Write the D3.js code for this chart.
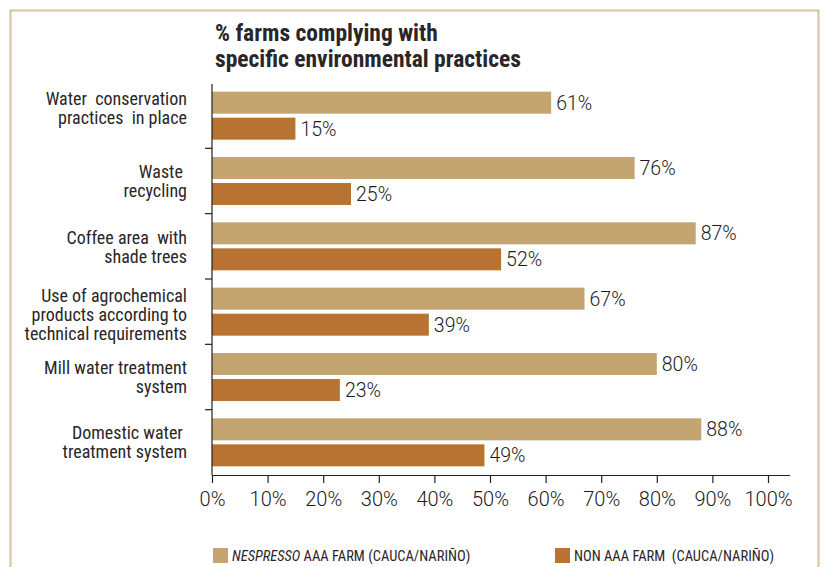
<!DOCTYPE html>
<html>
<head>
<meta charset="utf-8">
<script src="https://cdn.jsdelivr.net/npm/d3@7"></script>
<style>
  body { margin: 0; background: #fff; }
  svg { display: block; }
  text { font-family: "Liberation Sans Narrow", "Roboto Condensed", "Liberation Sans", sans-serif; fill: #2a2627; }
  .num { font-family: Roboto, "Liberation Sans", sans-serif; font-weight: 300; fill: #1e1b1c; }
</style>
</head>
<body>
<script>
// categories and series values (percent of farms)
var categories = [
  ["Water  conservation", "practices  in place"],
  ["Waste ", "recycling"],
  ["Coffee area  with", "shade trees"],
  ["Use of agrochemical", "products according to", "technical requirements"],
  ["Mill water treatment", "system"],
  ["Domestic water ", "treatment system"]
];
var aaaValues = [61, 76, 87, 67, 80, 88];
var nonAaaValues = [15, 25, 52, 39, 23, 49];
var xTicks = [0, 10, 20, 30, 40, 50, 60, 70, 80, 90, 100];
var seriesNames = ["AAA FARM (CAUCA/NARIÑO)", "NON AAA FARM  (CAUCA/NARIÑO)"];
var titleLines = ["% farms complying with", "specific environmental practices"];

// the labels are not all centred on their band in the original
var labelShift = [-8, 0, 1, 3, 0, 0];

var W = 825, H = 567;
var colAAA = "#c4a571", colNon = "#b87333", frame = "#d9c19e";

var svg = d3.select("body").append("svg")
    .attr("width", W)
    .attr("height", H);

// outer frame
svg.append("path")
    .attr("d", "M10.5," + H + "V10.5H818.5V" + H)
    .attr("fill", "none")
    .attr("stroke", frame)
    .attr("stroke-width", 2);

// title
svg.append("text")
    .attr("x", 215)
    .attr("y", 41)
    .attr("font-size", 23.5)
    .attr("font-weight", "bold")
    .attr("fill", "#111")
    .selectAll("tspan")
    .data(titleLines)
    .enter().append("tspan")
    .attr("x", 215)
    .attr("dy", function(d, i) { return i ? 26 : 0; })
    .text(function(d) { return d; });

// scales
var x = d3.scaleLinear().domain([0, 100]).range([212, 768]);
var y = d3.scaleBand().domain(d3.range(categories.length)).range([83, 475]);

var barH = 22, gap = 4, lineH = 19;

// bars
var groups = svg.append("g").selectAll("g")
    .data(categories)
    .enter().append("g");

function barTop(i, k) {
  var mid = y(i) + y.bandwidth() / 2;
  return k == 0 ? mid - gap / 2 - barH : mid + gap / 2;
}

groups.append("rect")
    .attr("x", x(0))
    .attr("y", function(d, i) { return barTop(i, 0); })
    .attr("width", function(d, i) { return x(aaaValues[i]) - x(0); })
    .attr("height", barH)
    .attr("fill", colAAA);

groups.append("rect")
    .attr("x", x(0))
    .attr("y", function(d, i) { return barTop(i, 1); })
    .attr("width", function(d, i) { return x(nonAaaValues[i]) - x(0); })
    .attr("height", barH)
    .attr("fill", colNon);

// value labels
groups.append("text")
    .attr("class", "num")
    .attr("x", function(d, i) { return x(aaaValues[i]) + 5; })
    .attr("y", function(d, i) { return barTop(i, 0) + barH / 2 + 7; })
    .attr("font-size", 19.5)
    .text(function(d, i) { return aaaValues[i] + "%"; });

groups.append("text")
    .attr("class", "num")
    .attr("x", function(d, i) { return x(nonAaaValues[i]) + 5; })
    .attr("y", function(d, i) { return barTop(i, 1) + barH / 2 + 7; })
    .attr("font-size", 19.5)
    .text(function(d, i) { return nonAaaValues[i] + "%"; });

// category labels
groups.append("text")
    .attr("text-anchor", "end")
    .attr("font-size", 18)
    .attr("fill", "#3a3637")
    .attr("y", function(d, i) {
      return y(i) + y.bandwidth() / 2 - (d.length - 1) * lineH / 2 + 6.5 + labelShift[i];
    })
    .selectAll("tspan")
    .data(function(d) { return d; })
    .enter().append("tspan")
    .attr("x", 187)
    .attr("dy", function(d, j) { return j ? lineH : 0; })
    .style("white-space", "pre")
    .text(function(d) { return d; });

// y axis line and separators
svg.append("line")
    .attr("x1", x(0)).attr("x2", x(0))
    .attr("y1", 84).attr("y2", 475)
    .attr("stroke", "#231f20").attr("stroke-width", 1.2);

svg.append("g").selectAll("line")
    .data(d3.range(1, categories.length))
    .enter().append("line")
    .attr("x1", x(0) - 7).attr("x2", x(0))
    .attr("y1", function(i) { return y(i); })
    .attr("y2", function(i) { return y(i); })
    .attr("stroke", "#231f20").attr("stroke-width", 1.2);

// x axis
var xAxis = svg.append("g")
    .attr("transform", "translate(0,475)")
    .call(d3.axisBottom(x)
      .tickValues(xTicks)
      .tickSize(8)
      .tickPadding(9)
      .tickFormat(function(d) { return d + "%"; }));

xAxis.select(".domain").attr("d", "M" + x(0) + ",0.5H790");
xAxis.selectAll("path, line").attr("stroke", "#231f20").attr("stroke-width", 1.2);
xAxis.selectAll("text")
    .attr("class", "num")
    .attr("font-size", 20)
    .attr("font-family", null)
    .attr("fill", null);

// legend
var leg = svg.append("g").attr("font-size", 14.5).attr("fill", "#3a3637");

leg.append("rect").attr("x", 213).attr("y", 548).attr("width", 15).attr("height", 15).attr("fill", colAAA);
var t1 = leg.append("text").attr("x", 232).attr("y", 561).attr("fill", "#3a3637");
t1.append("tspan").attr("font-style", "italic").text("NESPRESSO");
t1.append("tspan").text(" " + seriesNames[0]);

leg.append("rect").attr("x", 555).attr("y", 548).attr("width", 15).attr("height", 15).attr("fill", colNon);
leg.append("text").attr("x", 574).attr("y", 561)
    .attr("fill", "#3a3637")
    .style("white-space", "pre")
    .text(seriesNames[1]);
</script>
</body>
</html>
